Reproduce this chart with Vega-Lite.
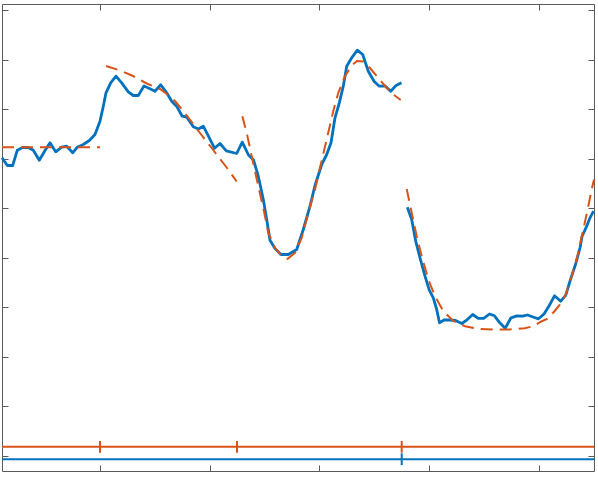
{
  "$schema": "https://vega.github.io/schema/vega-lite/v6.json",
  "width": 592,
  "height": 467,
  "autosize": {"type": "none"},
  "padding": {"left": 2, "top": 4, "right": 4, "bottom": 11},
  "background": "white",
  "config": {
    "view": {"stroke": "#5a5a5a", "strokeWidth": 1},
    "axis": {"labels": false, "domain": false, "grid": false, "ticks": true, "tickSize": -6, "tickColor": "#5a5a5a", "tickWidth": 1, "title": null}
  },
  "datasets": {
    "blue": [
      {"seg": 1, "x": 0, "y": 313.2}, {"seg": 1, "x": 5.3, "y": 305.5}, {"seg": 1, "x": 10.7, "y": 305.5}, {"seg": 1, "x": 15.3, "y": 320.8},
      {"seg": 1, "x": 20.7, "y": 323.5}, {"seg": 1, "x": 26.3, "y": 323.5}, {"seg": 1, "x": 31.3, "y": 320.8}, {"seg": 1, "x": 37.3, "y": 310.8},
      {"seg": 1, "x": 43, "y": 320.5}, {"seg": 1, "x": 48, "y": 328.2}, {"seg": 1, "x": 53.7, "y": 319.2}, {"seg": 1, "x": 59.7, "y": 323.8},
      {"seg": 1, "x": 64.7, "y": 324.8}, {"seg": 1, "x": 70.7, "y": 318.2}, {"seg": 1, "x": 75.3, "y": 323.8}, {"seg": 1, "x": 81.3, "y": 326.5},
      {"seg": 1, "x": 87.3, "y": 330.5}, {"seg": 1, "x": 93, "y": 336.5}, {"seg": 1, "x": 98, "y": 349.8}, {"seg": 1, "x": 101.3, "y": 364.8},
      {"seg": 1, "x": 104, "y": 378.2}, {"seg": 1, "x": 108.7, "y": 388.2}, {"seg": 1, "x": 114, "y": 394.8}, {"seg": 1, "x": 119.7, "y": 388.2},
      {"seg": 1, "x": 126.3, "y": 379.2}, {"seg": 1, "x": 131.3, "y": 375.5}, {"seg": 1, "x": 136.3, "y": 375.5}, {"seg": 1, "x": 142, "y": 385},
      {"seg": 1, "x": 148, "y": 382.2}, {"seg": 1, "x": 153, "y": 379.8}, {"seg": 1, "x": 158.7, "y": 386.2}, {"seg": 1, "x": 164.7, "y": 378.2},
      {"seg": 1, "x": 169.7, "y": 369.8}, {"seg": 1, "x": 175, "y": 364.2}, {"seg": 1, "x": 180.2, "y": 354.8}, {"seg": 1, "x": 184.7, "y": 354},
      {"seg": 1, "x": 191.3, "y": 344.2}, {"seg": 1, "x": 196.3, "y": 342}, {"seg": 1, "x": 201.3, "y": 344.8}, {"seg": 1, "x": 206.3, "y": 335.2},
      {"seg": 1, "x": 212.5, "y": 322.8}, {"seg": 1, "x": 218, "y": 327.5}, {"seg": 1, "x": 224.3, "y": 320.2}, {"seg": 1, "x": 234.7, "y": 317.5},
      {"seg": 1, "x": 240.3, "y": 328.8}, {"seg": 1, "x": 246.5, "y": 316}, {"seg": 1, "x": 251.5, "y": 311}, {"seg": 1, "x": 256.3, "y": 294.8},
      {"seg": 1, "x": 261.3, "y": 271.5}, {"seg": 1, "x": 264.7, "y": 251.5}, {"seg": 1, "x": 268, "y": 230.8}, {"seg": 1, "x": 273, "y": 222.5},
      {"seg": 1, "x": 279, "y": 216.5}, {"seg": 1, "x": 286.3, "y": 216.5}, {"seg": 1, "x": 294.7, "y": 221.5}, {"seg": 1, "x": 301.3, "y": 241.5},
      {"seg": 1, "x": 308, "y": 264.8}, {"seg": 1, "x": 313, "y": 285.5}, {"seg": 1, "x": 319.7, "y": 306.5}, {"seg": 1, "x": 324.7, "y": 316.5},
      {"seg": 1, "x": 329, "y": 328.2}, {"seg": 1, "x": 333, "y": 353.2}, {"seg": 1, "x": 337.3, "y": 368.2}, {"seg": 1, "x": 341.3, "y": 384.8},
      {"seg": 1, "x": 344.7, "y": 404.8}, {"seg": 1, "x": 349.7, "y": 413.2}, {"seg": 1, "x": 355.3, "y": 420.8}, {"seg": 1, "x": 360.7, "y": 416.5},
      {"seg": 1, "x": 366.3, "y": 399.8}, {"seg": 1, "x": 372, "y": 389.8}, {"seg": 1, "x": 377.3, "y": 384.8}, {"seg": 1, "x": 383, "y": 385.2},
      {"seg": 1, "x": 388.7, "y": 379.8}, {"seg": 1, "x": 394, "y": 385.5}, {"seg": 1, "x": 399.5, "y": 388.2},
      {"seg": 2, "x": 405.3, "y": 263.8}, {"seg": 2, "x": 409.7, "y": 251.5}, {"seg": 2, "x": 413.7, "y": 229.8}, {"seg": 2, "x": 418, "y": 213.2},
      {"seg": 2, "x": 423, "y": 194.8}, {"seg": 2, "x": 427.3, "y": 180.8}, {"seg": 2, "x": 431.3, "y": 173.2}, {"seg": 2, "x": 434.7, "y": 161.5},
      {"seg": 2, "x": 437.5, "y": 148.2}, {"seg": 2, "x": 442.5, "y": 151.2}, {"seg": 2, "x": 448, "y": 151}, {"seg": 2, "x": 453.5, "y": 150.5},
      {"seg": 2, "x": 459.8, "y": 147.5}, {"seg": 2, "x": 465, "y": 151.2}, {"seg": 2, "x": 470.7, "y": 156.5}, {"seg": 2, "x": 476.2, "y": 152.7},
      {"seg": 2, "x": 481.7, "y": 152.7}, {"seg": 2, "x": 487.5, "y": 157}, {"seg": 2, "x": 492.5, "y": 155.2}, {"seg": 2, "x": 497.8, "y": 148.2},
      {"seg": 2, "x": 503.2, "y": 142.7}, {"seg": 2, "x": 509, "y": 153.2}, {"seg": 2, "x": 515, "y": 155.2}, {"seg": 2, "x": 520.5, "y": 154.8},
      {"seg": 2, "x": 525.5, "y": 156}, {"seg": 2, "x": 531, "y": 154}, {"seg": 2, "x": 536.5, "y": 152.2}, {"seg": 2, "x": 542, "y": 157},
      {"seg": 2, "x": 547, "y": 165}, {"seg": 2, "x": 552.5, "y": 175.2}, {"seg": 2, "x": 558.7, "y": 169.8}, {"seg": 2, "x": 563.7, "y": 175.7},
      {"seg": 2, "x": 568.5, "y": 191.5}, {"seg": 2, "x": 573.5, "y": 206.5}, {"seg": 2, "x": 578, "y": 223}, {"seg": 2, "x": 580, "y": 234.5},
      {"seg": 2, "x": 584.7, "y": 244.8}, {"seg": 2, "x": 588, "y": 253.2}, {"seg": 2, "x": 591.5, "y": 259.8}
    ],
    "fit": [
      {"seg": 1, "x": 0, "y": 323.8}, {"seg": 1, "x": 98, "y": 323.8},
      {"seg": 2, "x": 104, "y": 405}, {"seg": 2, "x": 118, "y": 400.5}, {"seg": 2, "x": 131, "y": 395}, {"seg": 2, "x": 144.7, "y": 387.5},
      {"seg": 2, "x": 158, "y": 382}, {"seg": 2, "x": 164.7, "y": 377}, {"seg": 2, "x": 173, "y": 370}, {"seg": 2, "x": 181.3, "y": 360},
      {"seg": 2, "x": 189.7, "y": 349}, {"seg": 2, "x": 198, "y": 338}, {"seg": 2, "x": 209.7, "y": 323}, {"seg": 2, "x": 218, "y": 312},
      {"seg": 2, "x": 224.7, "y": 303.5}, {"seg": 2, "x": 234.7, "y": 289.5},
      {"seg": 3, "x": 240.3, "y": 354.8}, {"seg": 3, "x": 244.7, "y": 338.2}, {"seg": 3, "x": 249.7, "y": 314.8}, {"seg": 3, "x": 256.3, "y": 284.8},
      {"seg": 3, "x": 262.3, "y": 258.2}, {"seg": 3, "x": 266.3, "y": 238.2}, {"seg": 3, "x": 273, "y": 223.2}, {"seg": 3, "x": 279.7, "y": 214.8},
      {"seg": 3, "x": 285.7, "y": 212.2}, {"seg": 3, "x": 293, "y": 218.2}, {"seg": 3, "x": 299.7, "y": 233.2}, {"seg": 3, "x": 306.3, "y": 258.2},
      {"seg": 3, "x": 313, "y": 281.5}, {"seg": 3, "x": 319, "y": 307.5}, {"seg": 3, "x": 325, "y": 333}, {"seg": 3, "x": 331.3, "y": 360},
      {"seg": 3, "x": 336.3, "y": 378.2}, {"seg": 3, "x": 343, "y": 394.8}, {"seg": 3, "x": 349.7, "y": 405.5}, {"seg": 3, "x": 355, "y": 410},
      {"seg": 3, "x": 361.3, "y": 409.5}, {"seg": 3, "x": 368, "y": 403}, {"seg": 3, "x": 376.3, "y": 393}, {"seg": 3, "x": 384.7, "y": 383},
      {"seg": 3, "x": 391.3, "y": 376.5}, {"seg": 3, "x": 398.7, "y": 371},
      {"seg": 4, "x": 404.7, "y": 282}, {"seg": 4, "x": 409.7, "y": 258.2}, {"seg": 4, "x": 414.7, "y": 234.8}, {"seg": 4, "x": 419.7, "y": 214.8},
      {"seg": 4, "x": 426.3, "y": 191.5}, {"seg": 4, "x": 433, "y": 174.8}, {"seg": 4, "x": 441.3, "y": 159.8}, {"seg": 4, "x": 451.3, "y": 150},
      {"seg": 4, "x": 463, "y": 144.8}, {"seg": 4, "x": 476.3, "y": 142.2}, {"seg": 4, "x": 492.3, "y": 141.5}, {"seg": 4, "x": 508, "y": 141.5},
      {"seg": 4, "x": 522.7, "y": 142.7}, {"seg": 4, "x": 531.3, "y": 144.8}, {"seg": 4, "x": 539.3, "y": 149.5}, {"seg": 4, "x": 545, "y": 152},
      {"seg": 4, "x": 552.7, "y": 160}, {"seg": 4, "x": 558, "y": 166.5}, {"seg": 4, "x": 563, "y": 174.8}, {"seg": 4, "x": 569.7, "y": 194.5},
      {"seg": 4, "x": 575.3, "y": 214.5}, {"seg": 4, "x": 581.3, "y": 241.5}, {"seg": 4, "x": 586.3, "y": 264.8}, {"seg": 4, "x": 589.7, "y": 281.5},
      {"seg": 4, "x": 592, "y": 291.5}
    ],
    "base": [
      {"series": "fit", "y": 24.2},
      {"series": "data", "y": 11.8}
    ],
    "marks": [
      {"series": "fit", "x": 98, "y": 24.2},
      {"series": "fit", "x": 235, "y": 24.2},
      {"series": "fit", "x": 399.7, "y": 24.2},
      {"series": "data", "x": 399.7, "y": 11.8}
    ],
    "ticks": [
      {"x": 98, "y": 15.2}
    ]
  },
  "layer": [
    {
      "data": {"name": "ticks"},
      "mark": {"type": "point", "opacity": 0},
      "encoding": {
        "x": {"field": "x", "type": "quantitative", "scale": {"domain": [0, 592], "nice": false, "zero": false},
              "axis": {"orient": "top", "values": [98, 207.7, 317.3, 426.9, 536.5]}},
        "y": {"field": "y", "type": "quantitative", "scale": {"domain": [0, 467], "nice": false, "zero": false},
              "axis": {"orient": "right", "values": [15.2, 64.8, 114.2, 163.8, 213.2, 262.8, 312.2, 361.8, 411.5, 461.2]}}
      }
    },
    {
      "data": {"name": "blue"},
      "mark": {"type": "line", "color": "#0072BD", "strokeWidth": 2.8, "strokeJoin": "round"},
      "encoding": {
        "x": {"field": "x", "type": "quantitative", "scale": {"domain": [0, 592], "nice": false, "zero": false},
              "axis": {"orient": "bottom", "values": [98, 207.7, 317.3, 426.9, 536.5]}},
        "y": {"field": "y", "type": "quantitative", "scale": {"domain": [0, 467], "nice": false, "zero": false},
              "axis": {"orient": "left", "values": [15.2, 64.8, 114.2, 163.8, 213.2, 262.8, 312.2, 361.8, 411.5, 461.2]}},
        "detail": {"field": "seg", "type": "nominal"}
      }
    },
    {
      "data": {"name": "fit"},
      "mark": {"type": "line", "color": "#D95319", "strokeWidth": 2, "strokeDash": [12, 7]},
      "encoding": {
        "x": {"field": "x", "type": "quantitative", "axis": null},
        "y": {"field": "y", "type": "quantitative", "axis": null},
        "detail": {"field": "seg", "type": "nominal"}
      }
    },
    {
      "data": {"name": "base"},
      "mark": {"type": "rule", "strokeWidth": 2},
      "encoding": {
        "y": {"field": "y", "type": "quantitative", "axis": null},
        "color": {"field": "series", "type": "nominal", "scale": {"domain": ["fit", "data"], "range": ["#D95319", "#0072BD"]}, "legend": null}
      }
    },
    {
      "data": {"name": "marks"},
      "mark": {"type": "point", "shape": "M0,-1L0,1", "size": 140, "strokeWidth": 2, "filled": false, "opacity": 1},
      "encoding": {
        "x": {"field": "x", "type": "quantitative", "axis": null},
        "y": {"field": "y", "type": "quantitative", "axis": null},
        "color": {"field": "series", "type": "nominal", "scale": {"domain": ["fit", "data"], "range": ["#D95319", "#0072BD"]}, "legend": null}
      }
    }
  ],
  "resolve": {"axis": {"x": "independent", "y": "independent"}}
}
